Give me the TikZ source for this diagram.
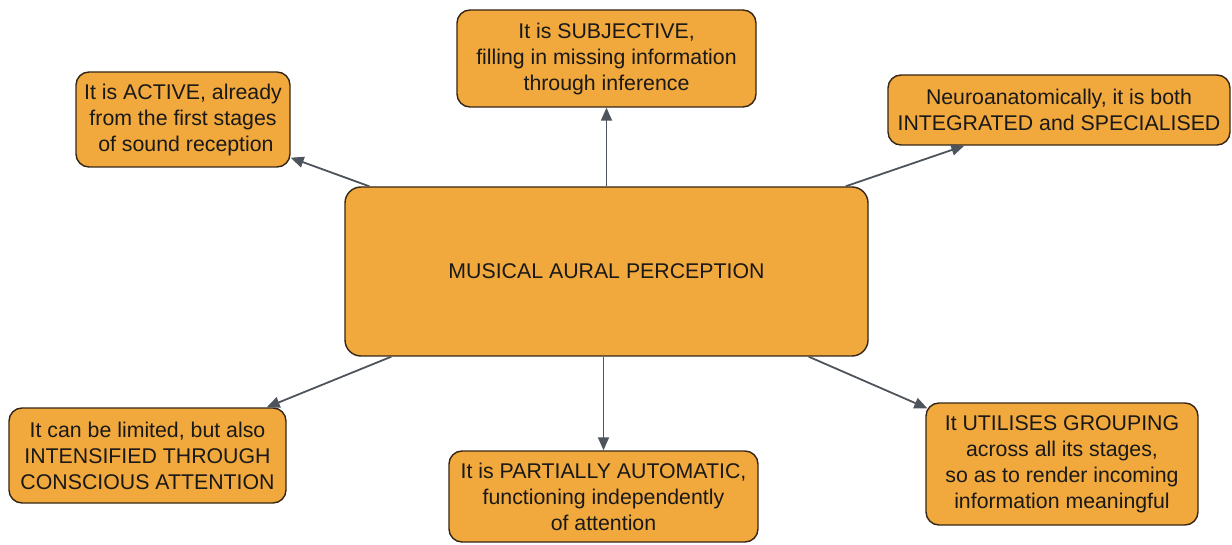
\documentclass[tikz,border=0pt]{standalone}
\usepackage{fontspec}
\setmainfont{Liberation Sans}
\usetikzlibrary{arrows.meta}
\definecolor{boxfill}{RGB}{241,168,60}
\definecolor{boxline}{RGB}{52,38,22}
\definecolor{linkcol}{RGB}{78,84,92}
\begin{document}
\begin{tikzpicture}[x=1pt,y=-1pt,
  idea/.style={draw=boxline,line width=1.4pt,fill=boxfill,rounded corners=13pt,
    align=center,inner sep=0pt,text=black!90,
    font=\fontsize{21.3}{26}\selectfont},
  link/.style={draw=linkcol,line width=1.8pt,
    -{Triangle[length=13pt,width=11pt]}}]
\useasboundingbox (0,0) rectangle (1232,545);

% central concept
\node[idea,minimum width=523pt,minimum height=169pt,rounded corners=16pt]
  (mid) at (606.5,271.5) {MUSICAL AURAL PERCEPTION};

% surrounding properties
\node[idea,minimum width=214pt,minimum height=95pt] (active) at (183,119.5)
  {It is ACTIVE, already\\from the first stages\\\ of sound reception};
\node[idea,minimum width=299pt,minimum height=97pt] (subj) at (606.5,58.5)
  {It is SUBJECTIVE,\\filling in missing information\\through inference};
\node[idea,minimum width=342pt,minimum height=70pt] (neuro) at (1059,110)
  {Neuroanatomically, it is both\\INTEGRATED and SPECIALISED};
\node[idea,minimum width=277pt,minimum height=95pt] (limited) at (147.5,455.5)
  {It can be limited, but also\\INTENSIFIED THROUGH\\CONSCIOUS ATTENTION};
\node[idea,minimum width=309pt,minimum height=91pt] (auto) at (603.5,496.5)
  {It is PARTIALLY AUTOMATIC,\\functioning independently\\of attention};
\node[idea,minimum width=272pt,minimum height=122pt] (group) at (1062,464)
  {It UTILISES GROUPING\\across all its stages,\\so as to render incoming\\information meaningful};

% connectors
\draw[link] (mid.north) -- (subj.south);
\draw[link] ([xshift=25pt]mid.north west) -- ([yshift=10pt]active.south east);
\draw[link] ([xshift=-23pt]mid.north east) -- ([xshift=77pt]neuro.south west);
\draw[link] ([xshift=47pt]mid.south west) -- ([xshift=-20pt]limited.north east);
\draw[link] (mid.south -| auto.north) -- (auto.north);
\draw[link] ([xshift=-60pt]mid.south east) -- ([xshift=2pt,yshift=-6pt]group.north west);
\end{tikzpicture}
\end{document}
